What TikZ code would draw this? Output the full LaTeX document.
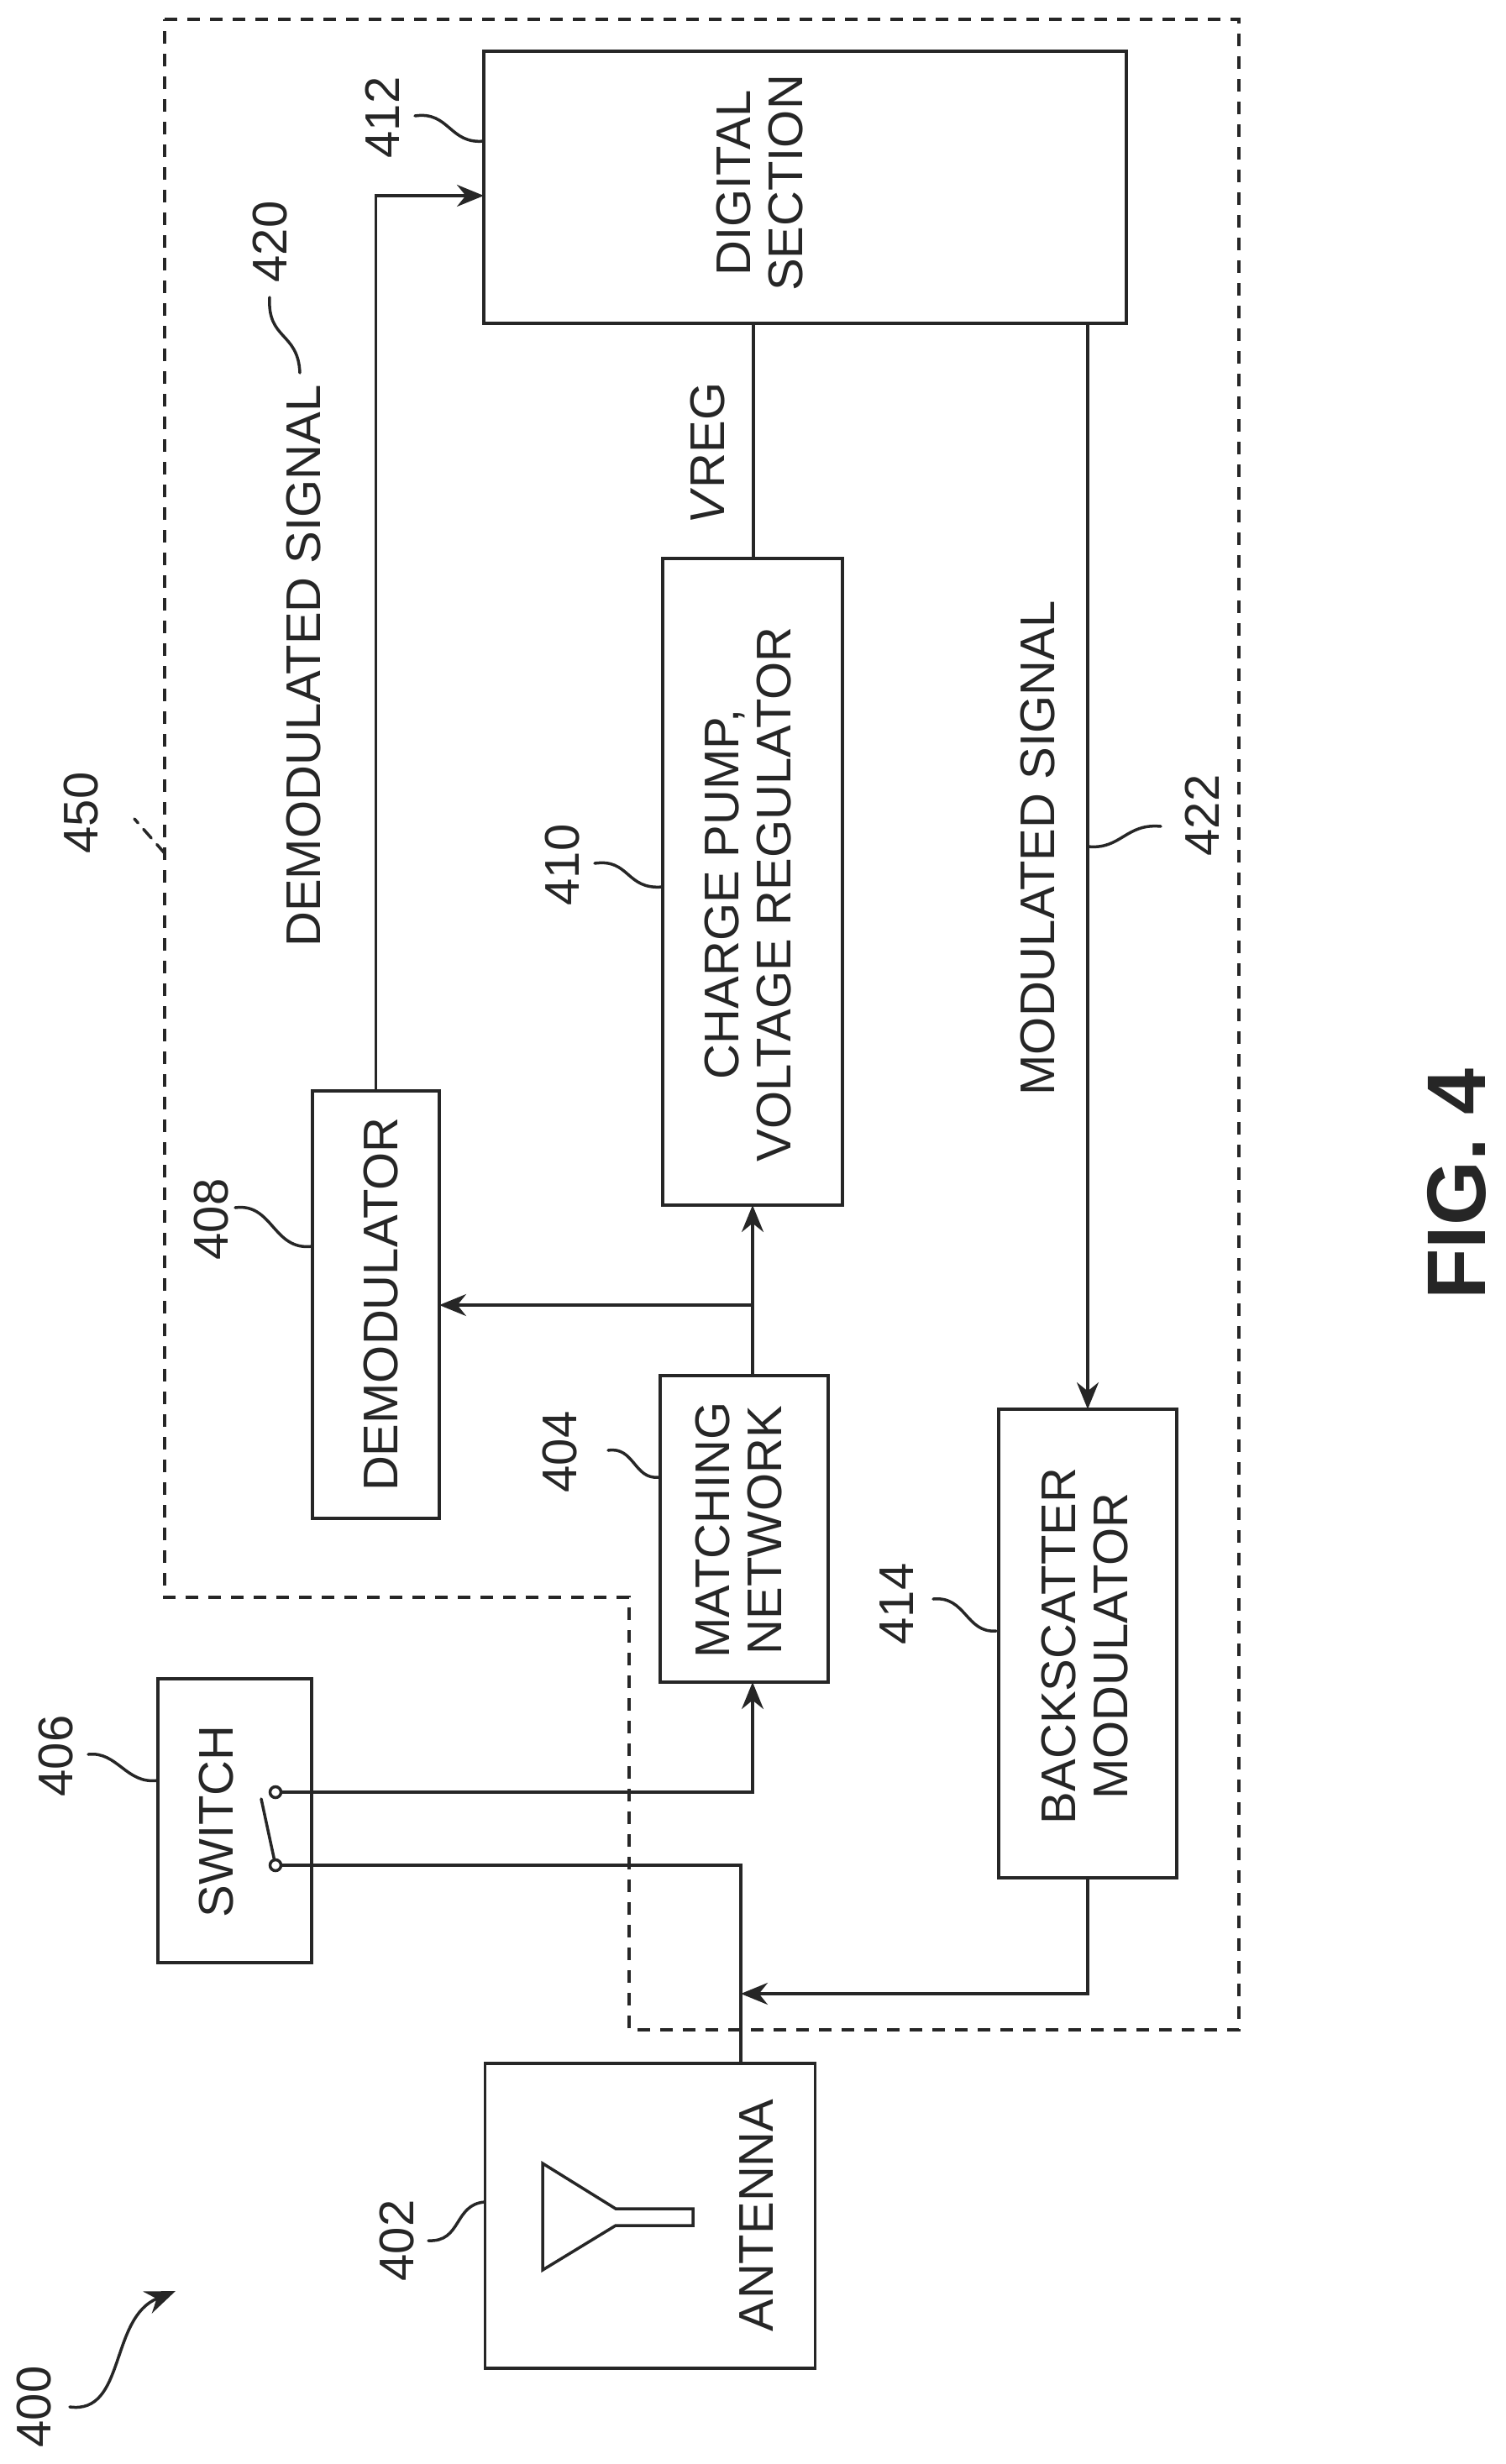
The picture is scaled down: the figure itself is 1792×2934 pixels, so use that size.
\documentclass[tikz,border=0pt]{standalone}
\usepackage{fontspec}
\setmainfont{Liberation Sans}
\usetikzlibrary{arrows.meta}
\tikzset{
  x=1pt,y=-1pt,
  line/.style={line width=3.5pt,draw=black!85},
  box/.style={line,rectangle,inner sep=0pt,outer sep=0pt},
  wire/.style={line,line join=miter},
  awire/.style={wire,-{Stealth[length=32pt,width=26pt]}},
  lead/.style={line,line cap=round},
  term/.style={circle,line,minimum size=13pt,inner sep=0pt,outer sep=0pt,fill=white},
  txt/.style={rotate=90,inner sep=0pt,align=center,font=\fontsize{58}{62}\selectfont,text=black!85},
}
\begin{document}
\begin{tikzpicture}
\useasboundingbox (0,0) rectangle (1792,2934);
% dashed enclosure
\draw[line,dash pattern=on 15pt off 12pt] (196,23) -- (1475,23) -- (1475,2417) -- (749,2417) -- (749,1902) -- (196,1902) -- cycle;
% boxes
\node[box,minimum width=765pt,minimum height=324pt] (digital) at (958.5,223) {};
\node[box,minimum width=214pt,minimum height=770pt] (charge) at (896,1050) {};
\node[box,minimum width=151pt,minimum height=509pt] (demod) at (447.5,1553.5) {};
\node[box,minimum width=200pt,minimum height=365pt] (match) at (886,1820.5) {};
\node[box,minimum width=212pt,minimum height=558pt] (back) at (1295,1957) {};
\node[box,minimum width=183pt,minimum height=338pt] (switch) at (279.5,2168) {};
\node[box,minimum width=393pt,minimum height=363pt] (antenna) at (774,2638.5) {};
% switch contacts
\node[term] (t1) at (328,2134) {};
\node[term] (t2) at (328,2221) {};
\coordinate (lever) at (311,2142);
\draw[lead] (t2) -- (lever);
% junction points
\coordinate (dsin) at (576,233);
\coordinate (dscor) at (447.5,233);
\coordinate (mtop) at (896,1638);
\coordinate (split) at (896,1554);
\coordinate (msig) at (1295,385);
\coordinate (v1) at (897,385);
\coordinate (v2) at (897,665);
\coordinate (t1c) at (896,2134);
\coordinate (t2c) at (882,2221);
\coordinate (antin) at (882,2457);
\coordinate (bsj) at (882,2374);
\coordinate (bsc) at (1295,2374);
% connectors
\draw[awire] (demod.north) -- (dscor) -- (dsin);
\draw[wire] (v1) -- (v2);
\draw[awire] (msig) -- (back.north);
\draw[awire] (mtop) -- (charge.south);
\draw[awire] (split) -- (split -| demod.east);
\draw[awire] (t1.east) -- (t1c) -- (t1c |- match.south);
\draw[wire] (t2.east) -- (t2c) -- (antin);
\draw[awire] (back.south) -- (bsc) -- (bsj);
% antenna symbol
\draw[line,line join=miter] (646,2576) -- (646,2703) -- (733,2650) -- (825,2650) -- (825,2630) -- (733,2630) -- cycle;
% labels inside boxes
\node[txt] (ldigital) at (905,218) {DIGITAL\\SECTION};
\node[txt] (lcharge) at (891,1065) {CHARGE PUMP,\\VOLTAGE REGULATOR};
\node[txt] (ldemod) at (454,1553) {DEMODULATOR};
\node[txt] (lmatch) at (880,1822) {MATCHING\\NETWORK};
\node[txt] (lback) at (1292,1960) {BACKSCATTER\\MODULATOR};
\node[txt] (lswitch) at (258,2169) {SWITCH};
\node[txt] (lant) at (901,2638) {ANTENNA};
% signal labels
\node[txt] (ldsig) at (362,793) {DEMODULATED SIGNAL};
\node[txt] (lmsig) at (1236,1010) {MODULATED SIGNAL};
\node[txt] (lvreg) at (843,540) {\textit{V}REG};
% reference numbers
\node[txt] (n400) at (41,2866) {400};
\node[txt] (n402) at (473,2668) {402};
\node[txt] (n404) at (667,1729) {404};
\node[txt] (n406) at (67,2091) {406};
\node[txt] (n408) at (252,1452) {408};
\node[txt] (n410) at (670,1030) {410};
\node[txt] (n412) at (455,140) {412};
\node[txt] (n414) at (1068,1910) {414};
\node[txt] (n420) at (322,288) {420};
\node[txt] (n422) at (1431,971) {422};
\node[txt] (n450) at (97,968) {450};
% leader lines
\coordinate (a400) at (83,2866);
\coordinate (b400) at (209,2728);
\draw[lead,-{Stealth[length=36pt,width=28pt]}] (a400) .. controls (150,2875) and (130,2760) .. (b400);
\coordinate (a406) at (105,2089);
\coordinate (b406) at (188,2120);
\draw[lead] (a406) .. controls (140,2085) and (150,2125) .. (b406);
\coordinate (a402) at (510,2668);
\coordinate (b402) at (577,2622);
\draw[lead] (a402) .. controls (550,2670) and (540,2625) .. (b402);
\coordinate (a412) at (494,138);
\coordinate (b412) at (576,168);
\draw[lead] (a412) .. controls (535,132) and (535,172) .. (b412);
\coordinate (a420) at (357,444);
\coordinate (b420) at (321,354);
\draw[lead] (a420) .. controls (355,395) and (318,405) .. (b420);
\coordinate (a410) at (708,1028);
\coordinate (b410) at (789,1056);
\draw[lead] (a410) .. controls (750,1022) and (745,1060) .. (b410);
\coordinate (a450) at (196,1016);
\coordinate (b450) at (160,975);
\draw[lead,dash pattern=on 14pt off 10pt] (a450) -- (b450);
\coordinate (a408) at (280,1438);
\coordinate (b408) at (372,1484);
\draw[lead] (a408) .. controls (325,1432) and (325,1490) .. (b408);
\coordinate (a404) at (724,1727);
\coordinate (b404) at (784,1759);
\draw[lead] (a404) .. controls (755,1722) and (755,1762) .. (b404);
\coordinate (a414) at (1111,1904);
\coordinate (b414) at (1186,1942);
\draw[lead] (a414) .. controls (1150,1900) and (1150,1945) .. (b414);
\coordinate (a422) at (1382,984);
\coordinate (b422) at (1295,1008);
\draw[lead] (a422) .. controls (1340,980) and (1335,1012) .. (b422);
% figure caption
\node[txt,font=\fontsize{99}{102}\selectfont\bfseries] (fig) at (1734,1410) {FIG. 4};
\end{tikzpicture}
\end{document}
